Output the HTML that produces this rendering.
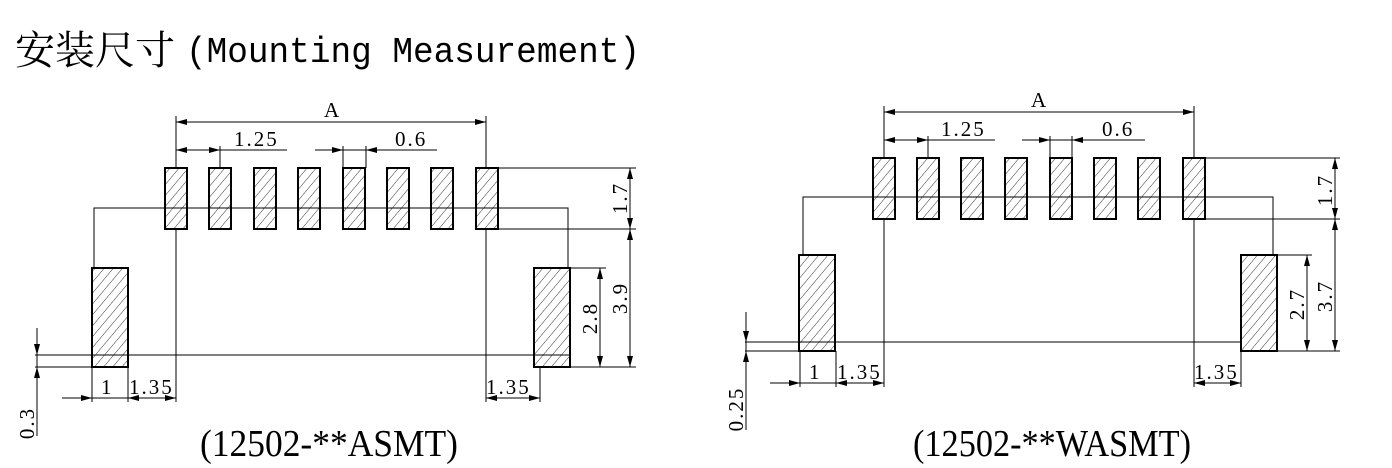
<!DOCTYPE html>
<html><head><meta charset="utf-8"><style>
html,body{margin:0;padding:0;background:#fff;width:1392px;height:468px;overflow:hidden}
svg{display:block}
.d{font-family:"Liberation Serif",serif;font-size:21px;fill:#000;letter-spacing:2px}
.c{font-family:"Liberation Serif",serif;font-size:38px;fill:#000}
</style></head><body>
<svg width="1392" height="468" viewBox="0 0 1392 468" xmlns="http://www.w3.org/2000/svg">
<defs>
<pattern id="h" width="7" height="7" patternUnits="userSpaceOnUse" patternTransform="rotate(40)">
<line x1="0" y1="0" x2="0" y2="7" stroke="#000" stroke-width="0.8"/>
</pattern>
<marker id="a" markerUnits="userSpaceOnUse" markerWidth="11" markerHeight="6" refX="11" refY="3" orient="auto">
<path d="M0,0 L11,3 L0,6 z" fill="#000"/>
</marker>
</defs>
<text x="15" y="64" style="font-family:'Noto Serif CJK SC','Noto Sans CJK SC',serif;font-size:40px" fill="#000">安装尺寸</text>
<text x="186" y="62" textLength="454" lengthAdjust="spacingAndGlyphs" style="font-family:'Liberation Mono',monospace;font-size:36px" fill="#000">(Mounting Measurement)</text>

<!-- LEFT -->
<g stroke="#000" stroke-width="1" fill="none">
<line x1="176" y1="116" x2="176" y2="168"/><line x1="486" y1="116" x2="486" y2="168"/>
<line x1="176" y1="122" x2="486" y2="122"/>
<line x1="200" y1="122" x2="176" y2="122" marker-end="url(#a)"/><line x1="460" y1="122" x2="486" y2="122" marker-end="url(#a)"/>
<line x1="220" y1="146" x2="220" y2="168"/>
<line x1="176" y1="150" x2="287" y2="150"/>
<line x1="198" y1="150" x2="176" y2="150" marker-end="url(#a)"/><line x1="198" y1="150" x2="220" y2="150" marker-end="url(#a)"/>
<line x1="343" y1="146" x2="343" y2="168"/><line x1="366" y1="146" x2="366" y2="168"/>
<line x1="315" y1="150" x2="437" y2="150"/>
<line x1="320" y1="150" x2="343" y2="150" marker-end="url(#a)"/><line x1="390" y1="150" x2="366" y2="150" marker-end="url(#a)"/>
<polyline points="94,268 94,208 568,208 568,268"/>
<line x1="176" y1="229" x2="176" y2="402"/><line x1="486" y1="229" x2="486" y2="402"/>
<line x1="35" y1="355" x2="570" y2="355"/>
<line x1="35" y1="367" x2="92" y2="367"/>
<line x1="498" y1="168" x2="636" y2="168"/><line x1="498" y1="229" x2="636" y2="229"/>
<line x1="570" y1="367" x2="636" y2="367"/><line x1="570" y1="268" x2="606" y2="268"/>
<line x1="630" y1="168" x2="630" y2="367"/>
<line x1="630" y1="190" x2="630" y2="168" marker-end="url(#a)"/><line x1="630" y1="205" x2="630" y2="229" marker-end="url(#a)"/>
<line x1="630" y1="250" x2="630" y2="229" marker-end="url(#a)"/><line x1="630" y1="345" x2="630" y2="367" marker-end="url(#a)"/>
<line x1="600" y1="268" x2="600" y2="367"/>
<line x1="600" y1="290" x2="600" y2="268" marker-end="url(#a)"/><line x1="600" y1="345" x2="600" y2="367" marker-end="url(#a)"/>
<line x1="92" y1="367" x2="92" y2="402"/><line x1="128" y1="367" x2="128" y2="402"/>
<line x1="62" y1="398" x2="176" y2="398"/>
<line x1="75" y1="398" x2="92" y2="398" marker-end="url(#a)"/>
<line x1="148" y1="398" x2="128" y2="398" marker-end="url(#a)"/><line x1="156" y1="398" x2="176" y2="398" marker-end="url(#a)"/>
<line x1="540" y1="367" x2="540" y2="402"/>
<line x1="486" y1="398" x2="540" y2="398"/>
<line x1="506" y1="398" x2="486" y2="398" marker-end="url(#a)"/><line x1="520" y1="398" x2="540" y2="398" marker-end="url(#a)"/>
<line x1="37" y1="328" x2="37" y2="436"/>
<line x1="37" y1="335" x2="37" y2="355" marker-end="url(#a)"/><line x1="37" y1="387" x2="37" y2="367" marker-end="url(#a)"/>
</g>
<g stroke="#000" stroke-width="2" fill="url(#h)">
<rect x="165" y="168" width="22" height="61"/><rect x="209" y="168" width="22" height="61"/>
<rect x="254" y="168" width="22" height="61"/><rect x="298" y="168" width="22" height="61"/>
<rect x="343" y="168" width="22" height="61"/><rect x="387" y="168" width="22" height="61"/>
<rect x="431" y="168" width="22" height="61"/><rect x="476" y="168" width="22" height="61"/>
<rect x="92" y="268" width="36" height="99"/><rect x="534" y="268" width="36" height="99"/>
</g>
<g class="d">
<text x="324" y="117">A</text>
<text x="234" y="146">1.25</text>
<text x="395" y="146">0.6</text>
<text x="101" y="394">1</text>
<text x="129" y="394">1.35</text>
<text x="486" y="394">1.35</text>
<text transform="translate(627,198) rotate(-90)" text-anchor="middle">1.7</text>
<text transform="translate(627,298) rotate(-90)" text-anchor="middle">3.9</text>
<text transform="translate(597,318) rotate(-90)" text-anchor="middle">2.8</text>
<text transform="translate(34,423) rotate(-90)" text-anchor="middle">0.3</text>
</g>
<text class="c" x="200" y="456" textLength="258" lengthAdjust="spacingAndGlyphs">(12502-**ASMT)</text>

<!-- RIGHT -->
<g stroke="#000" stroke-width="1" fill="none">
<line x1="884" y1="106" x2="884" y2="158"/><line x1="1194" y1="106" x2="1194" y2="158"/>
<line x1="884" y1="112" x2="1194" y2="112"/>
<line x1="906" y1="112" x2="884" y2="112" marker-end="url(#a)"/><line x1="1170" y1="112" x2="1194" y2="112" marker-end="url(#a)"/>
<line x1="928" y1="136" x2="928" y2="158"/>
<line x1="884" y1="140" x2="995" y2="140"/>
<line x1="906" y1="140" x2="884" y2="140" marker-end="url(#a)"/><line x1="906" y1="140" x2="928" y2="140" marker-end="url(#a)"/>
<line x1="1050" y1="136" x2="1050" y2="158"/><line x1="1072" y1="136" x2="1072" y2="158"/>
<line x1="1022" y1="140" x2="1145" y2="140"/>
<line x1="1028" y1="140" x2="1050" y2="140" marker-end="url(#a)"/><line x1="1094" y1="140" x2="1072" y2="140" marker-end="url(#a)"/>
<polyline points="803,255 803,197 1273,197 1273,255"/>
<line x1="884" y1="219" x2="884" y2="387"/><line x1="1194" y1="219" x2="1194" y2="387"/>
<line x1="745" y1="342" x2="1241" y2="342"/>
<line x1="745" y1="351" x2="799" y2="351"/>
<line x1="1205" y1="158" x2="1340" y2="158"/><line x1="1205" y1="219" x2="1340" y2="219"/>
<line x1="1277" y1="351" x2="1340" y2="351"/><line x1="1277" y1="255" x2="1312" y2="255"/>
<line x1="1335" y1="158" x2="1335" y2="351"/>
<line x1="1335" y1="180" x2="1335" y2="158" marker-end="url(#a)"/><line x1="1335" y1="197" x2="1335" y2="219" marker-end="url(#a)"/>
<line x1="1335" y1="240" x2="1335" y2="219" marker-end="url(#a)"/><line x1="1335" y1="330" x2="1335" y2="351" marker-end="url(#a)"/>
<line x1="1307" y1="255" x2="1307" y2="351"/>
<line x1="1307" y1="277" x2="1307" y2="255" marker-end="url(#a)"/><line x1="1307" y1="330" x2="1307" y2="351" marker-end="url(#a)"/>
<line x1="800" y1="351" x2="800" y2="387"/><line x1="836" y1="351" x2="836" y2="387"/>
<line x1="770" y1="383" x2="884" y2="383"/>
<line x1="782" y1="383" x2="800" y2="383" marker-end="url(#a)"/>
<line x1="856" y1="383" x2="836" y2="383" marker-end="url(#a)"/><line x1="864" y1="383" x2="884" y2="383" marker-end="url(#a)"/>
<line x1="1241" y1="351" x2="1241" y2="387"/>
<line x1="1194" y1="383" x2="1241" y2="383"/>
<line x1="1214" y1="383" x2="1194" y2="383" marker-end="url(#a)"/><line x1="1222" y1="383" x2="1241" y2="383" marker-end="url(#a)"/>
<line x1="746" y1="312" x2="746" y2="430"/>
<line x1="746" y1="322" x2="746" y2="342" marker-end="url(#a)"/><line x1="746" y1="371" x2="746" y2="351" marker-end="url(#a)"/>
</g>
<g stroke="#000" stroke-width="2" fill="url(#h)">
<rect x="873" y="158" width="22" height="61"/><rect x="917" y="158" width="22" height="61"/>
<rect x="961" y="158" width="22" height="61"/><rect x="1005" y="158" width="22" height="61"/>
<rect x="1050" y="158" width="22" height="61"/><rect x="1094" y="158" width="22" height="61"/>
<rect x="1138" y="158" width="22" height="61"/><rect x="1183" y="158" width="22" height="61"/>
<rect x="799" y="255" width="36" height="96"/><rect x="1241" y="255" width="36" height="96"/>
</g>
<g class="d">
<text x="1031" y="107">A</text>
<text x="941" y="136">1.25</text>
<text x="1102" y="136">0.6</text>
<text x="809" y="379">1</text>
<text x="837" y="379">1.35</text>
<text x="1194" y="379">1.35</text>
<text transform="translate(1332,190) rotate(-90)" text-anchor="middle">1.7</text>
<text transform="translate(1332,296) rotate(-90)" text-anchor="middle">3.7</text>
<text transform="translate(1304,304) rotate(-90)" text-anchor="middle">2.7</text>
<text transform="translate(743,409) rotate(-90)" text-anchor="middle">0.25</text>
</g>
<text class="c" x="913" y="456" textLength="278" lengthAdjust="spacingAndGlyphs">(12502-**WASMT)</text>
</svg>
</body></html>
